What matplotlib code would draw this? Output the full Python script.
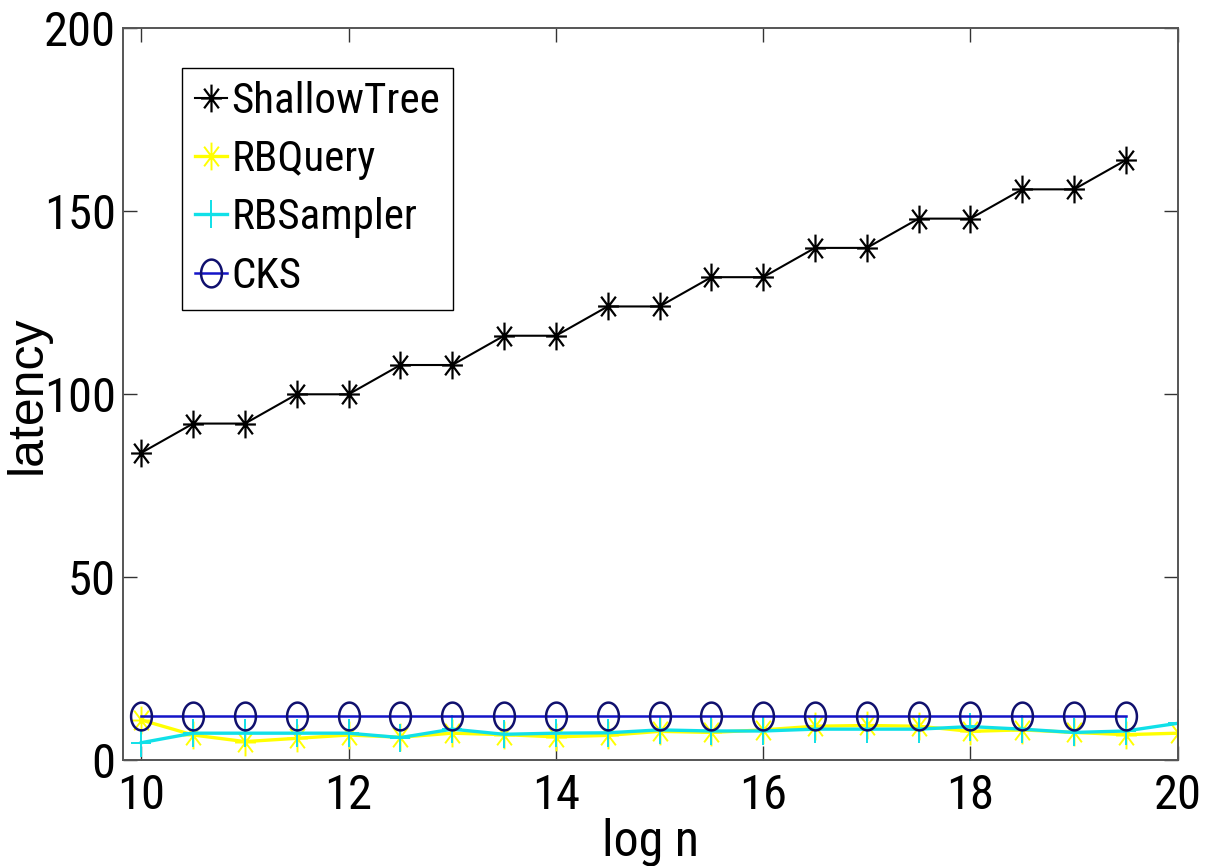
import numpy as np
import matplotlib
matplotlib.use("Agg")
import matplotlib.pyplot as plt
from matplotlib.path import Path
from matplotlib import font_manager

# ---- data -------------------------------------------------------------
log_n_tree = [10, 10.5, 11, 11.5, 12, 12.5, 13, 13.5, 14, 14.5,
              15, 15.5, 16, 16.5, 17, 17.5, 18, 18.5, 19, 19.5]
shallow_tree = [84, 92, 92, 100, 100, 108, 108, 116, 116, 124,
                124, 132, 132, 140, 140, 148, 148, 156, 156, 164]
cks = [12, 12, 12, 12, 12, 12, 12, 12, 12, 12,
       12, 12, 12, 12, 12, 12, 12, 12, 12, 12]

log_n_rb = [10, 10.5, 11, 11.5, 12, 12.5, 13, 13.5, 14, 14.5, 15,
            15.5, 16, 16.5, 17, 17.5, 18, 18.5, 19, 19.5, 20]
rb_query = [11, 6.9, 5.1, 6.0, 6.9, 6.3, 7.4, 7.0, 6.4, 6.8, 7.9,
            7.6, 8.3, 9.3, 9.5, 9.3, 7.9, 8.3, 7.6, 7.0, 7.4]
rb_sampler = [4.8, 7.4, 7.4, 7.4, 7.4, 6.2, 8.5, 7.1, 7.4, 7.5, 8.3,
              8.0, 8.0, 8.5, 8.5, 8.5, 9.2, 8.5, 7.6, 8.0, 10.1]

x_ticks = [10, 12, 14, 16, 18, 20]
y_ticks = [0, 50, 100, 150, 200]

# ---- fonts: prefer a narrow sans if one is installed ----------------------
available = {f.name for f in font_manager.fontManager.ttflist}
narrow_candidates = ["Liberation Sans Narrow", "Arial Narrow", "Roboto Condensed",
                     "Noto Sans Condensed", "Open Sans Condensed"]
narrow = next((n for n in narrow_candidates if n in available), None)
if narrow is not None:
    main_font, tick_size, leg_size = narrow, 35, 31
else:
    main_font, tick_size, leg_size = "Liberation Sans", 31, 28
plt.rcParams["font.family"] = [main_font, "DejaVu Sans"]

# ---- marker shapes (slightly narrower than tall) ------------------------
SQ = 0.75


def ellipse_marker():
    t = np.linspace(0, 2 * np.pi, 64)
    verts = np.column_stack([SQ * np.cos(t), np.sin(t)])
    return Path(verts, closed=True)


def star_marker():
    d = 0.707
    segs = [((0, -1), (0, 1)), ((-SQ, 0), (SQ, 0)),
            ((-SQ * d, -d), (SQ * d, d)), ((-SQ * d, d), (SQ * d, -d))]
    verts, codes = [], []
    for a, b in segs:
        verts += [a, b]
        codes += [Path.MOVETO, Path.LINETO]
    return Path(verts, codes)


def plus_marker():
    verts = [(0, -1), (0, 1), (-SQ, 0), (SQ, 0)]
    codes = [Path.MOVETO, Path.LINETO, Path.MOVETO, Path.LINETO]
    return Path(verts, codes)


# ---- figure -----------------------------------------------------------
fig = plt.figure(figsize=(12.12, 8.66), dpi=100)
ax = fig.add_axes([0.1012, 0.1221, 0.8705, 0.8452])

ax.plot(log_n_tree, shallow_tree, color="black", lw=1.5,
        marker=star_marker(), ms=20, mfc="none", mec="black", mew=1.6,
        label="ShallowTree")
ax.plot(log_n_rb, rb_query, color="#ffff00", lw=2.4,
        marker=star_marker(), ms=20, mfc="none", mec="#ffff00", mew=1.4,
        label="RBQuery")
ax.plot(log_n_rb, rb_sampler, color="#10e0e8", lw=2.4,
        marker=plus_marker(), ms=20, mfc="none", mec="#10e0e8", mew=1.4,
        label="RBSampler")
ax.plot(log_n_tree, cks, color="#1414c8", lw=1.8,
        marker=ellipse_marker(), ms=20, mfc="none", mec="#10106e", mew=1.8,
        label="CKS")

ax.set_xlim(9.82, 20)
ax.set_ylim(0, 200)
ax.set_xticks(x_ticks)
ax.set_yticks(y_ticks)

ax.tick_params(axis="both", which="both", direction="in", length=10,
               width=1.0, color="#333333", top=True, right=True,
               labelsize=tick_size, labelcolor="black")
ax.tick_params(axis="x", pad=9)
ax.tick_params(axis="y", pad=5)
for sp in ax.spines.values():
    sp.set_color("#555555")
    sp.set_linewidth(1.4)

ax.set_xlabel("log n", fontsize=tick_size + 1)
ax.xaxis.set_label_coords(0.5, -0.078)
ax.set_ylabel("latency", fontsize=36, family=["Liberation Sans", "DejaVu Sans"])
ax.yaxis.set_label_coords(-0.068, 0.5)

leg = ax.legend(loc="upper left", bbox_to_anchor=(182 / 1212, 1 - 68 / 866),
                bbox_transform=fig.transFigure, borderaxespad=0,
                fontsize=leg_size, handlelength=0.75, handletextpad=0.1,
                labelspacing=0.4, borderpad=0.3, numpoints=1,
                frameon=True, fancybox=False, framealpha=1)
leg.get_frame().set_edgecolor("black")
leg.get_frame().set_linewidth(1.0)

fig.savefig("out.png", dpi=100)
